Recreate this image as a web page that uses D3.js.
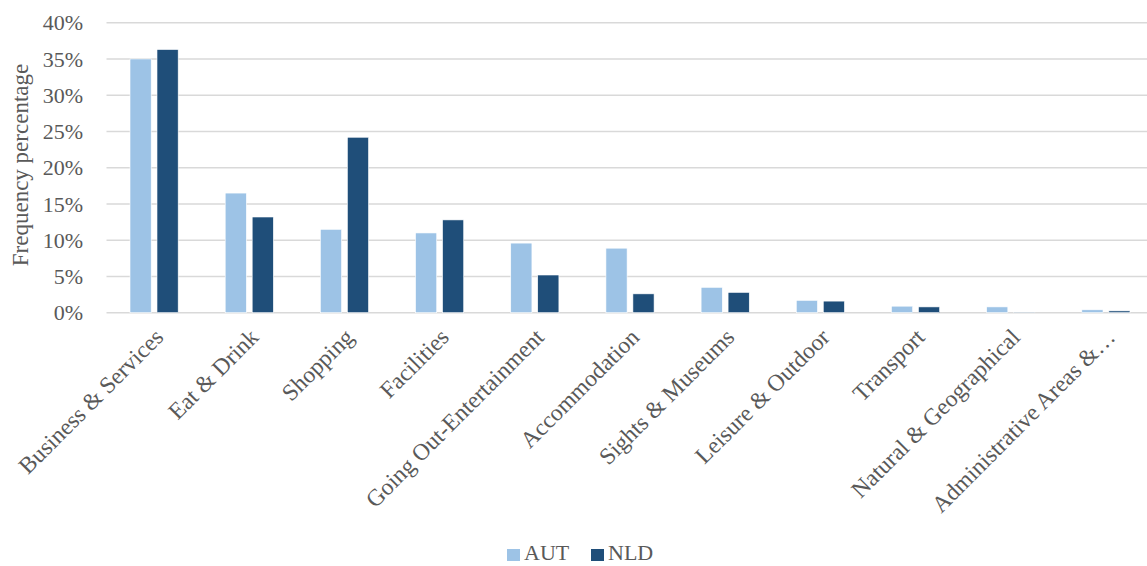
<!DOCTYPE html>
<html>
<head>
<meta charset="utf-8">
<script src="https://cdn.jsdelivr.net/npm/d3@7"></script>
<style>
  body { margin: 0; background: #fff; }
  svg { display: block; font-family: "Liberation Serif", "Times New Roman", serif; }
</style>
</head>
<body>
<svg id="chart" width="1147" height="566"></svg>
<script>
var categories = ['Business & Services', 'Eat & Drink', 'Shopping', 'Facilities',
  'Going Out-Entertainment', 'Accommodation', 'Sights & Museums', 'Leisure & Outdoor',
  'Transport', 'Natural & Geographical', 'Administrative Areas &\u2026'];
var seriesNames = ['AUT', 'NLD'];
var aut = [35.0, 16.5, 11.5, 11.0, 9.6, 8.9, 3.5, 1.7, 0.9, 0.8, 0.4];
var nld = [36.3, 13.2, 24.2, 12.8, 5.2, 2.6, 2.8, 1.6, 0.8, 0.05, 0.25];
var yTicks = [0, 5, 10, 15, 20, 25, 30, 35, 40];
var colors = { AUT: '#9dc3e6', NLD: '#1f4e79' };

var svg = d3.select('#chart');
var plotLeft = 106.5, plotRight = 1153.5, plotTop = 22.7, plotBottom = 312.7;

var x0 = d3.scaleBand().domain(categories).range([plotLeft, plotRight]).padding(0);
var x1 = d3.scaleBand().domain(seriesNames)
  .range([x0.bandwidth() * 0.247, x0.bandwidth() * 0.753]).paddingInner(0.215);
var y = d3.scaleLinear().domain([0, 40]).range([plotBottom, plotTop]);

// gridlines
svg.append('g')
  .selectAll('line').data(yTicks).enter().append('line')
    .attr('x1', plotLeft).attr('x2', plotRight)
    .attr('y1', function(d) { return y(d); })
    .attr('y2', function(d) { return y(d); })
    .style('stroke', '#d9d9d9')
    .style('stroke-width', 1.5);

// y tick labels
svg.append('g')
  .selectAll('text').data(yTicks).enter().append('text')
    .attr('x', 83).attr('y', function(d) { return y(d); })
    .attr('dy', '0.35em')
    .attr('text-anchor', 'end')
    .style('font-size', '22px')
    .style('fill', '#595959')
    .text(function(d) { return d + '%'; });

// y axis title
svg.append('text')
  .attr('transform', 'translate(28,165) rotate(-90)')
  .attr('text-anchor', 'middle')
  .style('font-size', '23px')
  .style('fill', '#595959')
  .text('Frequency percentage');

var rows = categories.map(function(c, i) {
  return { cat: c, values: [{ key: 'AUT', v: aut[i] }, { key: 'NLD', v: nld[i] }] };
});

var groups = svg.append('g').selectAll('g').data(rows).enter().append('g')
  .attr('transform', function(d) { return 'translate(' + x0(d.cat) + ',0)'; });

groups.selectAll('rect').data(function(d) { return d.values; }).enter().append('rect')
  .attr('x', function(d) { return x1(d.key); })
  .attr('width', x1.bandwidth())
  .attr('y', function(d) { return y(d.v); })
  .attr('height', function(d) { return y(0) - y(d.v); })
  .style('fill', function(d) { return colors[d.key]; })
  .style('stroke', '#fff')
  .style('stroke-width', 0.6);

// category labels
svg.append('g')
  .selectAll('text').data(categories).enter().append('text')
    .attr('transform', function(d) {
      return 'translate(' + (x0(d) + x0.bandwidth() / 2 - 1) + ',327) rotate(-45)';
    })
    .attr('text-anchor', 'end')
    .attr('dy', '0.7em')
    .style('font-size', '23.5px')
    .style('fill', '#595959')
    .text(function(d) { return d; });

// legend
var legend = svg.append('g').attr('transform', 'translate(507,553)');
var items = legend.selectAll('g').data(seriesNames).enter().append('g')
  .attr('transform', function(d, i) { return 'translate(' + (i * 84) + ',0)'; });
items.append('rect')
  .attr('x', 0).attr('y', -4).attr('width', 13).attr('height', 12)
  .style('fill', function(d) { return colors[d]; });
items.append('text')
  .attr('x', 17).attr('y', 0).attr('dy', '0.33em')
  .style('font-size', '22px')
  .style('fill', '#595959')
  .text(function(d) { return d; });
</script>
</body>
</html>
